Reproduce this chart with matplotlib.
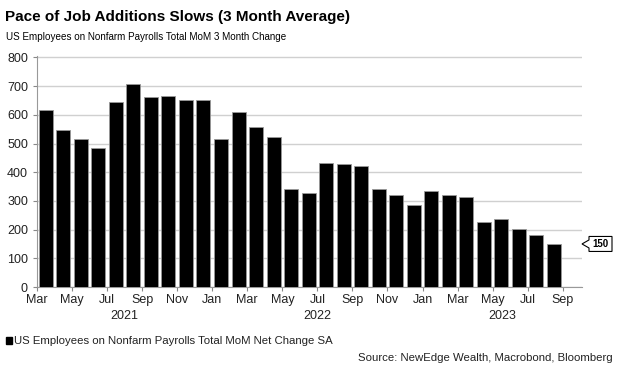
import numpy as np
import matplotlib.pyplot as plt
from matplotlib.patches import Rectangle, Polygon
from matplotlib.transforms import ScaledTranslation

plt.rcParams['font.family'] = ['Liberation Sans', 'DejaVu Sans']

# --- Data: 3-month average of monthly payroll change (thousands), Mar 2021 - Aug 2023 ---
values = [616, 547, 517, 486, 646, 707, 661, 666, 650, 653,
          515, 610, 559, 523, 343, 328, 432, 429, 423, 342, 321, 285,
          333, 319, 312, 228, 237, 201, 181, 150]
tick_labels = ['Mar', 'May', 'Jul', 'Sep', 'Nov', 'Jan', 'Mar', 'May',
               'Jul', 'Sep', 'Nov', 'Jan', 'Mar', 'May', 'Jul', 'Sep']
years = ['2021', '2022', '2023']
year_spans = [(0, 10), (10, 22), (22, 31.1)]   # month index ranges (Mar 2021 = 0)

title = 'Pace of Job Additions Slows (3 Month Average)'
subtitle = 'US Employees on Nonfarm Payrolls Total MoM 3 Month Change'
legend_label = 'US Employees on Nonfarm Payrolls Total MoM Net Change SA'
source = 'Source: NewEdge Wealth, Macrobond, Bloomberg'

# --- Figure ---
fig = plt.figure(figsize=(6.23, 3.76), dpi=100)
ax = fig.add_axes([37 / 623, 1 - 287 / 376, (582 - 37) / 623, (287 - 56) / 376])

x = np.arange(len(values)) + 0.5
ax.bar(x, values, width=0.8, color='black', edgecolor='#999999', linewidth=0.6, zorder=3)

xmax = 31.1
ax.set_xlim(0, xmax)
ax.set_ylim(0, 805)
ax.set_yticks(range(0, 801, 100))
ax.yaxis.grid(True, color='#d0d0d0', linewidth=1.0, zorder=0)

ax.set_xticks(range(0, 31, 2))
ax.set_xticklabels(tick_labels)
ax.tick_params(axis='both', labelsize=9, colors='#888888', labelcolor='#222222', length=3, width=0.8)
ax.tick_params(axis='x', pad=2)

for side in ['top', 'right']:
    ax.spines[side].set_visible(False)
for side in ['left', 'bottom']:
    ax.spines[side].set_color('#999999')
    ax.spines[side].set_linewidth(0.8)

# year labels under the month ticks
for yr, (a, b) in zip(years, year_spans):
    ax.text((a + b) / 2, -0.10, yr, transform=ax.get_xaxis_transform(),
            ha='center', va='top', fontsize=9, color='#222222')

# last value callout (box with a notch pointing at the right edge of the axes)
last = values[-1]
tip = fig.dpi_scale_trans + ScaledTranslation(xmax, last, ax.transData)
callout = Polygon([(0, 0), (0.07, 0.04), (0.07, 0.075), (0.30, 0.075),
                   (0.30, -0.075), (0.07, -0.075), (0.07, -0.04)],
                  closed=True, transform=tip, facecolor='white', edgecolor='black',
                  linewidth=0.8, clip_on=False, zorder=5)
ax.add_patch(callout)
ax.text(0.185, 0, str(last), transform=tip, ha='center', va='center',
        fontsize=7, fontweight='bold', zorder=6, clip_on=False)

# titles
fig.text(5 / 623, 1 - 17 / 376, title, fontsize=11, fontweight='bold', va='center', ha='left')
fig.text(6 / 623, 1 - 37 / 376, subtitle, fontsize=7.1, va='center', ha='left')

# legend and source
fig.patches.append(Rectangle((6 / 623, 1 - 344 / 376), 6 / 623, 7 / 376,
                             transform=fig.transFigure, color='black', figure=fig))
fig.text(14 / 623, 1 - 341 / 376, legend_label, fontsize=8.2, va='center', ha='left', color='#222222')
fig.text(613 / 623, 1 - 358 / 376, source, fontsize=8.2, va='center', ha='right', color='#222222')

fig.savefig('out.png', dpi=100)
